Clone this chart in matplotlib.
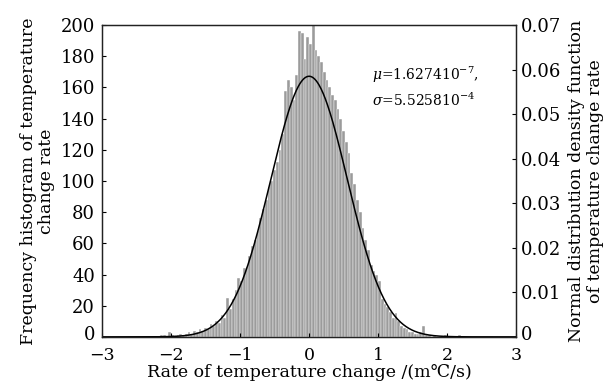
import numpy as np
import matplotlib
matplotlib.use("Agg")
import matplotlib.pyplot as plt
from matplotlib.transforms import ScaledTranslation

plt.rcParams["font.family"] = ["DejaVu Serif", "DejaVu Sans"]
plt.rcParams["mathtext.fontset"] = "dejavuserif"

# histogram (bin width 0.04, centres -2.18 .. 2.18)
bin_width = 0.04
bin_centres = np.round(np.arange(-2.18, 2.1801, bin_width), 2)
counts = [
    0, 1, 1, 0, 3, 1, 0, 1, 2, 1,
    2, 3, 2, 4, 3, 5, 4, 6, 5, 8,
    7, 10, 9, 14, 12, 25, 18, 24, 30, 38,
    36, 44, 45, 52, 58, 62, 68, 76, 82, 88,
    96, 100, 107, 112, 120, 130, 158, 165, 160, 152,
    168, 196, 195, 178, 192, 188, 200, 184, 180, 176,
    170, 165, 160, 155, 152, 146, 140, 132, 125, 118,
    105, 98, 88, 80, 70, 62, 56, 46, 42, 40,
    36, 24, 21, 19, 16, 12, 15, 10, 7, 6,
    5, 3, 3, 2, 2, 3, 7, 1, 1, 0,
    1, 0, 0, 0, 1, 0, 0, 0, 0, 1,
]

# fitted normal distribution (in m°C/s) and its peak on the right axis
mu = 1.6274e-4
sigma = 0.55258
pdf_peak = 0.0585

fig = plt.figure(figsize=(6.09, 3.85), dpi=100)
ax = fig.add_axes([0.1675, 0.125, 0.68, 0.81])
ax.bar(bin_centres, counts, width=bin_width, color="#9b9b9b",
       edgecolor="white", linewidth=0.3)
ax.set_xlim(-3, 3)
ax.set_ylim(0, 200)
ax.set_xticks(range(-3, 4))
ax.set_xticklabels(["\u22123", "\u22122", "\u22121", "0", "1", "2", "3"])
ax.set_yticks(range(0, 201, 20))
ax.tick_params(direction="in", labelsize=13, length=3, pad=5)
ax.tick_params(axis="x", pad=7, labelsize=12.5)
ax.set_xlabel("Rate of temperature change /(m\u2103/s)", fontsize=12.5, labelpad=0)
ax.set_ylabel("Frequency histogram of temperature\nchange rate", fontsize=12.5,
              linespacing=1.1, labelpad=4)

ax2 = ax.twinx()
xs = np.linspace(-3, 3, 600)
ys = pdf_peak * np.exp(-(xs - mu) ** 2 / (2 * sigma ** 2))
ax2.plot(xs, ys, color="black", linewidth=1.1)
ax2.set_ylim(0, 0.07)
ax2.set_yticks(np.arange(0, 0.0701, 0.01))
ax2.set_yticklabels(["0", "0.01", "0.02", "0.03", "0.04", "0.05", "0.06", "0.07"])
ax2.tick_params(direction="in", labelsize=13, length=3)
ax2.set_ylabel("Normal distribution density function\nof temperature change rate",
               fontsize=12.5, linespacing=1.1, labelpad=5)

# nudge the two bottom "0" labels up a little, clear of the x tick labels
shift = ScaledTranslation(0, 3 / 72, fig.dpi_scale_trans)
for a in (ax, ax2):
    lbl = a.get_yticklabels()[0]
    lbl.set_transform(lbl.get_transform() + shift)

for a in (ax, ax2):
    for s in a.spines.values():
        s.set_linewidth(0.9)
        s.set_color("#222222")

ax.text(0.91, 168, r"$\mu$=1.627410$^{-7}$,", fontsize=10, va="center")
ax.text(0.91, 152, r"$\sigma$=5.525810$^{-4}$", fontsize=10, va="center")

fig.savefig("out.png", dpi=100)
